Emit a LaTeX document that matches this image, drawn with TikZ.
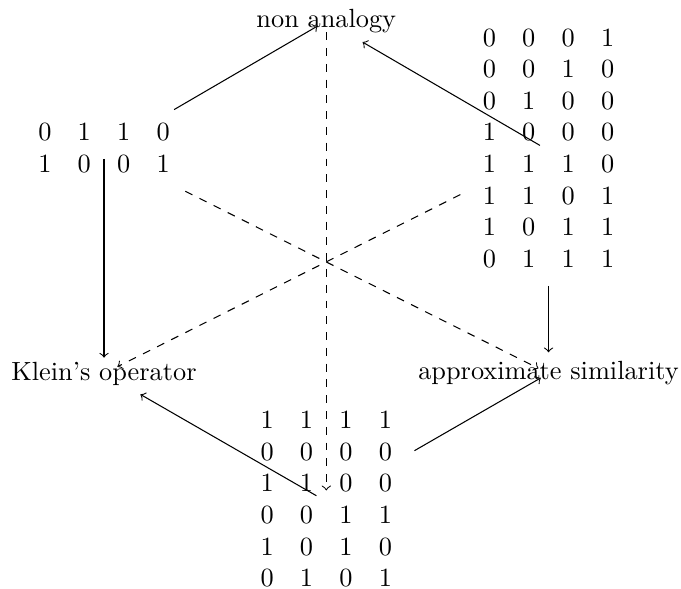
\documentclass[tikz,border=0pt]{standalone}
\usepackage{amsmath}
\usepackage{amssymb}
\usepackage{tikz}

\begin{document}
\begin{tikzpicture}[arr/.style={->},darr/.style={->,dashed}]
\useasboundingbox (-4.360000,-4.380000) rectangle (4.740000,3.490000);
\draw (0.000000,3.210000) coordinate (c-na) node (na) {non analogy};
\draw (-2.970000,1.480000) coordinate (c-lm) node (lm) {$\begin{array}{cccc}
0&1&1&0\\
1&0&0&1
\end{array}$};
\draw (2.970000,1.480000) coordinate (c-rm) node (rm) {$\begin{array}{cccc}
0&0&0&1\\
0&0&1&0\\
0&1&0&0\\
1&0&0&0\\
1&1&1&0\\
1&1&0&1\\
1&0&1&1\\
0&1&1&1
\end{array}$};
\draw (-2.970000,-1.500000) coordinate (c-ko) node (ko) {Klein's operator};
\draw (2.970000,-1.500000) coordinate (c-as) node (as) {approximate similarity};
\draw (0.000000,-3.210000) coordinate (c-bm) node (bm) {$\begin{array}{cccc}
1&1&1&1\\
0&0&0&0\\
1&1&0&0\\
0&0&1&1\\
1&0&1&0\\
0&1&0&1
\end{array}$};
\draw[arr,shorten >=3.8pt] (lm) -- (c-na);
\draw[arr,shorten <=3.8pt] (c-rm) -- (na);
\draw[darr,shorten <=4.3pt,shorten >=4.2pt] (c-na) -- (c-bm);
\draw[arr,shorten <=3.2pt,shorten >=6pt] (c-lm) -- (c-ko);
\draw[darr,shorten >=5.7pt] (rm) -- (c-ko);
\draw[darr,shorten >=4.3pt] (lm) -- (c-as);
\draw[arr] (rm) -- (as);
\draw[arr,shorten <=4.3pt] (c-bm) -- (ko);
\draw[arr,shorten >=3.4pt] (bm) -- (c-as);
\end{tikzpicture}
\end{document}
